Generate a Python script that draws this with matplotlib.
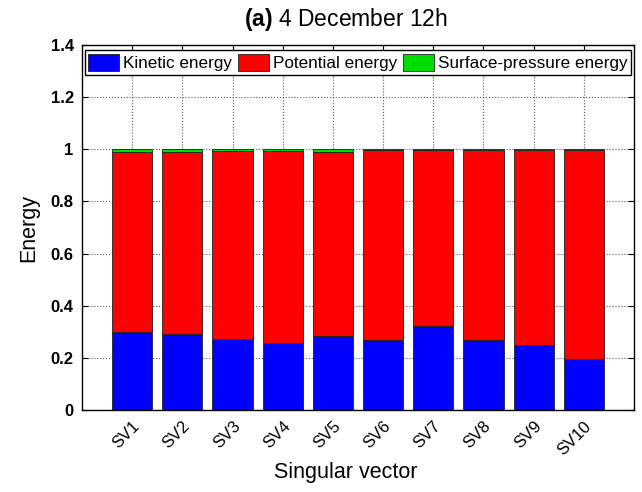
import numpy as np
import matplotlib
matplotlib.use("Agg")
import matplotlib.pyplot as plt

plt.rcParams['font.family'] = ['Liberation Sans', 'DejaVu Sans']
plt.rcParams['mathtext.fontset'] = 'custom'
plt.rcParams['mathtext.bf'] = 'Liberation Sans:bold'
plt.rcParams['mathtext.rm'] = 'Liberation Sans'

# values
labels = ['SV1', 'SV2', 'SV3', 'SV4', 'SV5', 'SV6', 'SV7', 'SV8', 'SV9', 'SV10']
kinetic = [0.300, 0.293, 0.274, 0.257, 0.283, 0.268, 0.322, 0.268, 0.250, 0.195]
surface = [0.012, 0.012, 0.005, 0.005, 0.010, 0.004, 0.004, 0.004, 0.004, 0.004]
potential = [1.0 - k - s for k, s in zip(kinetic, surface)]

x = np.arange(1, len(labels) + 1)
kin = np.array(kinetic)
pot = np.array(potential)

fig = plt.figure(figsize=(6.42, 4.92), dpi=100)
ax = fig.add_axes([0.1277, 0.1667, 0.8598, 0.7418])

ax.bar(x, kin, width=0.8, color='#0000ff', edgecolor='#202020', linewidth=0.6,
       label='Kinetic energy', zorder=2)
ax.bar(x, pot, width=0.8, bottom=kin, color='#ff0000', edgecolor='#202020',
       linewidth=0.6, label='Potential energy', zorder=2)
ax.bar(x, surface, width=0.8, bottom=kin + pot, color='#00dd00',
       edgecolor='#202020', linewidth=0.6, label='Surface-pressure energy', zorder=2)

ax.set_xlim(0, 11)
ax.set_ylim(0, 1.4)
ax.set_xticks(x)
ax.set_xticklabels(labels, rotation=45, ha='right', va='top',
                   rotation_mode='anchor', fontsize=12)
yt = [0, 0.2, 0.4, 0.6, 0.8, 1.0, 1.2, 1.4]
ax.set_yticks(yt)
ax.set_yticklabels(['0', '0.2', '0.4', '0.6', '0.8', '1', '1.2', '1.4'],
                   fontsize=12, fontweight='bold')
ax.tick_params(direction='in', top=True, right=True, length=4, width=0.8)
ax.tick_params(axis='y', pad=6)
ax.tick_params(axis='x', pad=6)

ax.grid(True, linestyle=':', color='#555555', linewidth=0.8, zorder=0)
ax.set_axisbelow(True)
for s in ax.spines.values():
    s.set_linewidth(1.0)

ax.set_xlabel('Singular vector', fontsize=15.5, labelpad=3, x=0.478)
ax.set_ylabel('Energy', fontsize=15.5, labelpad=8)
ax.set_title(r'$\bf{(a)}$ 4 December 12h', fontsize=16.5, pad=14, x=0.478)

leg = ax.legend(loc='upper center', ncol=3, fontsize=12.3, frameon=True,
                fancybox=False, edgecolor='black', framealpha=1,
                bbox_to_anchor=(0.5, 0.985), handlelength=1.8,
                handleheight=1.2, handletextpad=0.25, columnspacing=0.35,
                borderpad=0.2, borderaxespad=0)
leg.get_frame().set_linewidth(1.0)

fig.savefig('out.png', dpi=100)
